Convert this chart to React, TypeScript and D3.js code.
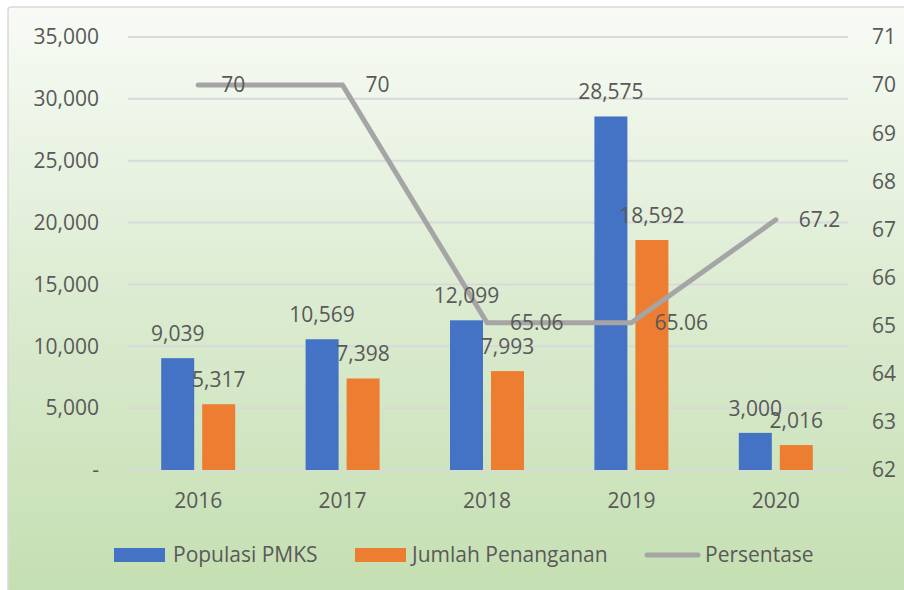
import React from "react";
import * as d3 from "d3";

const categories = ["2016", "2017", "2018", "2019", "2020"];
const populasi = [9039, 10569, 12099, 28575, 3000];
const penanganan = [5317, 7398, 7993, 18592, 2016];
const persentase = [70, 70, 65.06, 65.06, 67.2];
const leftTicks = [0, 5000, 10000, 15000, 20000, 25000, 30000, 35000];
const rightTicks = [62, 63, 64, 65, 66, 67, 68, 69, 70, 71];
const seriesNames = ["Populasi PMKS", "Jumlah Penanganan", "Persentase"];

const W = 904;
const H = 590;
const FONT = "'Open Sans', sans-serif";
const TXT = "#595959";
const BLUE = "#4472C4";
const ORANGE = "#ED7D31";
const GRAY = "#A5A5A5";

export default function App() {
  const x = d3.scaleBand<string>().domain(categories).range([126, 848]);
  const yL = d3.scaleLinear().domain([0, 35000]).range([470, 37]);
  const yR = d3.scaleLinear().domain([62, 71]).range([470, 37]);
  const cx = (c: string) => (x(c) as number) + x.bandwidth() / 2;
  const barW = 33;
  const gap = 4;
  const fmt = d3.format(",");
  const line = d3
    .line<number>()
    .x((_, i) => cx(categories[i]))
    .y((d) => yR(d));

  return (
    <div style={{ position: "fixed", left: 0, top: 0 }}>
      <svg width={W} height={H} style={{ display: "block" }} fontFamily={FONT}>
        <defs>
          <linearGradient id="bg" x1="0" y1="0" x2="0" y2="1">
            <stop offset="0" stopColor="#f8fbf6" />
            <stop offset="0.5" stopColor="#dbebd0" />
            <stop offset="1" stopColor="#c4dfb1" />
          </linearGradient>
        </defs>
        <rect x={0} y={0} width={W} height={H} fill="#ffffff" />
        <rect x={8} y={7} width={W} height={H} rx={3} fill="url(#bg)" stroke="#d9d9d9" strokeWidth={1.5} />
        {/* gridlines */}
        {leftTicks.map((t) => (
          <line key={t} x1={128} x2={848} y1={yL(t)} y2={yL(t)} stroke="#d9d9d9" strokeWidth={2} />
        ))}
        {/* left axis labels */}
        {leftTicks.map((t) => (
          <text key={t} x={99} y={yL(t)} dy="0.35em" textAnchor="end" fontSize={21} fill={TXT}>
            {t === 0 ? "-" : fmt(t)}
          </text>
        ))}
        {/* right axis labels */}
        {rightTicks.map((t) => (
          <text key={t} x={872} y={yR(t)} dy="0.35em" textAnchor="start" fontSize={21} fill={TXT}>
            {t}
          </text>
        ))}
        {/* x labels */}
        {categories.map((c) => (
          <text key={c} x={cx(c)} y={508} textAnchor="middle" fontSize={21} fill={TXT}>
            {c}
          </text>
        ))}
        {/* bars */}
        {categories.map((c, i) => (
          <g key={c}>
            <rect x={cx(c) - gap - barW} y={yL(populasi[i])} width={barW} height={yL(0) - yL(populasi[i])} fill={BLUE} />
            <rect x={cx(c) + gap} y={yL(penanganan[i])} width={barW} height={yL(0) - yL(penanganan[i])} fill={ORANGE} />
          </g>
        ))}
        {/* line */}
        <path d={line(persentase) || ""} fill="none" stroke={GRAY} strokeWidth={5} strokeLinecap="round" strokeLinejoin="round" />
        {/* bar labels */}
        {categories.map((c, i) => (
          <g key={c}>
            <text x={cx(c) - gap - barW / 2} y={yL(populasi[i]) - 17} textAnchor="middle" fontSize={21} fill={TXT}>
              {fmt(populasi[i])}
            </text>
            <text x={cx(c) + gap + barW / 2} y={yL(penanganan[i]) - 17} textAnchor="middle" fontSize={21} fill={TXT}>
              {fmt(penanganan[i])}
            </text>
          </g>
        ))}
        {/* line labels */}
        {categories.map((c, i) => (
          <text key={c} x={cx(c) + 23} y={yR(persentase[i])} dy="0.35em" textAnchor="start" fontSize={21} fill={TXT}>
            {persentase[i]}
          </text>
        ))}
        {/* legend */}
        <rect x={114} y={548} width={51} height={14} fill={BLUE} />
        <text x={173} y={555} dy="0.35em" fontSize={21} fill={TXT}>{seriesNames[0]}</text>
        <rect x={355} y={548} width={51} height={14} fill={ORANGE} />
        <text x={412} y={555} dy="0.35em" fontSize={21} fill={TXT}>{seriesNames[1]}</text>
        <line x1={647} x2={698} y1={555} y2={555} stroke={GRAY} strokeWidth={5} strokeLinecap="round" />
        <text x={705} y={555} dy="0.35em" fontSize={21} fill={TXT}>{seriesNames[2]}</text>
      </svg>
    </div>
  );
}
